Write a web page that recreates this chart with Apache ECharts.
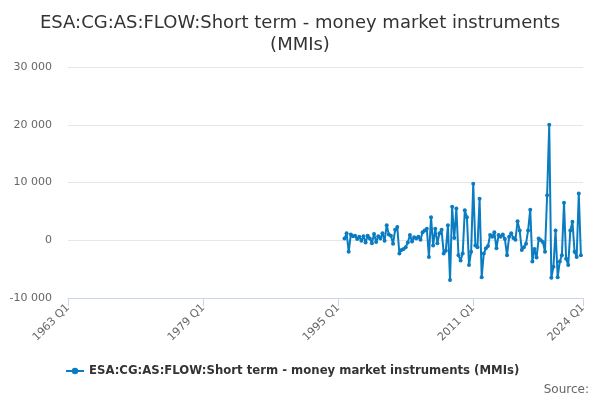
<!DOCTYPE html>
<html>
<head>
<meta charset="utf-8">
<script src="https://cdn.jsdelivr.net/npm/echarts@6/dist/echarts.min.js"></script>
<style>html,body{margin:0;padding:0;background:#fff}#c{width:600px;height:400px}</style>
</head>
<body>
<div id="c"></div>
<script>
const seriesName = 'ESA:CG:AS:FLOW:Short term - money market instruments (MMIs)';
const titleText = 'ESA:CG:AS:FLOW:Short term - money market instruments\n(MMIs)';
const startYear = 1963, endYear = 2024;
const firstDataQuarter = '1995 Q4';
const values = [
  300, 1200, -2000, 1000, 700,
  800, 200, 600, -100,
  700, -400, 800, 300,
  -500, 1100, -300, 700,
  300, 1200, -100, 2600,
  1000, 800, -600, 1800,
  2300, -2300, -1700, -1500,
  -1200, -400, 900, -200,
  500, 300, 600, 100,
  1400, 1700, 2000, -2900,
  4000, -900, 2000, -500,
  1200, 1800, -2300, -1800,
  2600, -6900, 5800, 400,
  5500, -2600, -3500, -2300,
  5200, 4000, -4300, -2000,
  9800, -900, -1200, 7200,
  -6400, -2300, -1400, -1000,
  900, 600, 1400, -1400,
  900, 600, 1000, 200,
  -2600, 600, 1200, 400,
  100, 3300, 1700, -1700,
  -1200, -600, 1700, 5300,
  -3700, -1500, -3000, 300,
  0, -300, -2000, 7800,
  20000, -6500, -4600, 1700,
  -6400, -3700, -2600, 6500,
  -3200, -4300, 1700, 3200,
  -2000, -2900, 8100, -2600
];
const yTicks = { min: -10000, max: 30000, interval: 10000 };

// build category axis
const categories = [];
for (let y = startYear; y <= endYear; y++) {
  for (let q = 1; q <= 4; q++) {
    categories.push(y + ' Q' + q);
    if (y === endYear) break;
  }
}
const startIdx = categories.indexOf(firstDataQuarter);
const data = categories.map((c, i) => {
  const k = i - startIdx;
  return (k >= 0 && k < values.length) ? values[k] : null;
});
const last = categories.length - 1;
const showIdx = (i) => i % 64 === 0 || i === last;

const fmt = v => {
  const s = Math.abs(v).toString().replace(/\B(?=(\d{3})+(?!\d))/g, ' ');
  return (v < 0 ? '-' : '') + s;
};

const chart = echarts.init(document.getElementById('c'));
chart.setOption({
  animation: false,
  title: {
    text: titleText,
    left: 'center',
    top: 7,
    textStyle: { fontFamily: 'DejaVu Sans', fontSize: 18, fontWeight: 'normal', color: '#333', lineHeight: 22 }
  },
  grid: { left: 68, right: 17, top: 67, bottom: 102, containLabel: false },
  legend: {
    data: [seriesName],
    bottom: 18,
    left: 60,
    itemWidth: 18,
    itemHeight: 8,
    itemGap: 5,
    textStyle: { fontFamily: 'DejaVu Sans', fontSize: 11.7, fontWeight: 'bold', color: '#333' }
  },
  graphic: [{
    type: 'text',
    right: 11,
    bottom: 4,
    style: { text: 'Source:', fontFamily: 'DejaVu Sans', fontSize: 12, fill: '#666' }
  }],
  xAxis: {
    type: 'category',
    data: categories,
    boundaryGap: false,
    axisLine: { onZero: false, lineStyle: { color: '#ccd6eb' } },
    axisTick: { interval: (i) => showIdx(i), length: 8, lineStyle: { color: '#ccd6eb' } },
    axisLabel: {
      interval: (i) => showIdx(i),
      rotate: 45,
      color: '#666',
      fontFamily: 'DejaVu Sans',
      fontSize: 11,
      margin: 8
    },
    splitLine: { show: false }
  },
  yAxis: {
    type: 'value',
    min: yTicks.min,
    max: yTicks.max,
    interval: yTicks.interval,
    axisLine: { show: false },
    axisTick: { show: false },
    axisLabel: { color: '#666', fontFamily: 'DejaVu Sans', fontSize: 11, margin: 16, formatter: fmt },
    splitLine: { lineStyle: { color: '#e6e6e6' } }
  },
  series: [{
    name: seriesName,
    type: 'line',
    data: data,
    connectNulls: false,
    symbol: 'circle',
    symbolSize: 4,
    showAllSymbol: true,
    lineStyle: { color: '#0a7cc1', width: 2 },
    itemStyle: { color: '#0a7cc1' }
  }]
});
</script>
</body>
</html>
